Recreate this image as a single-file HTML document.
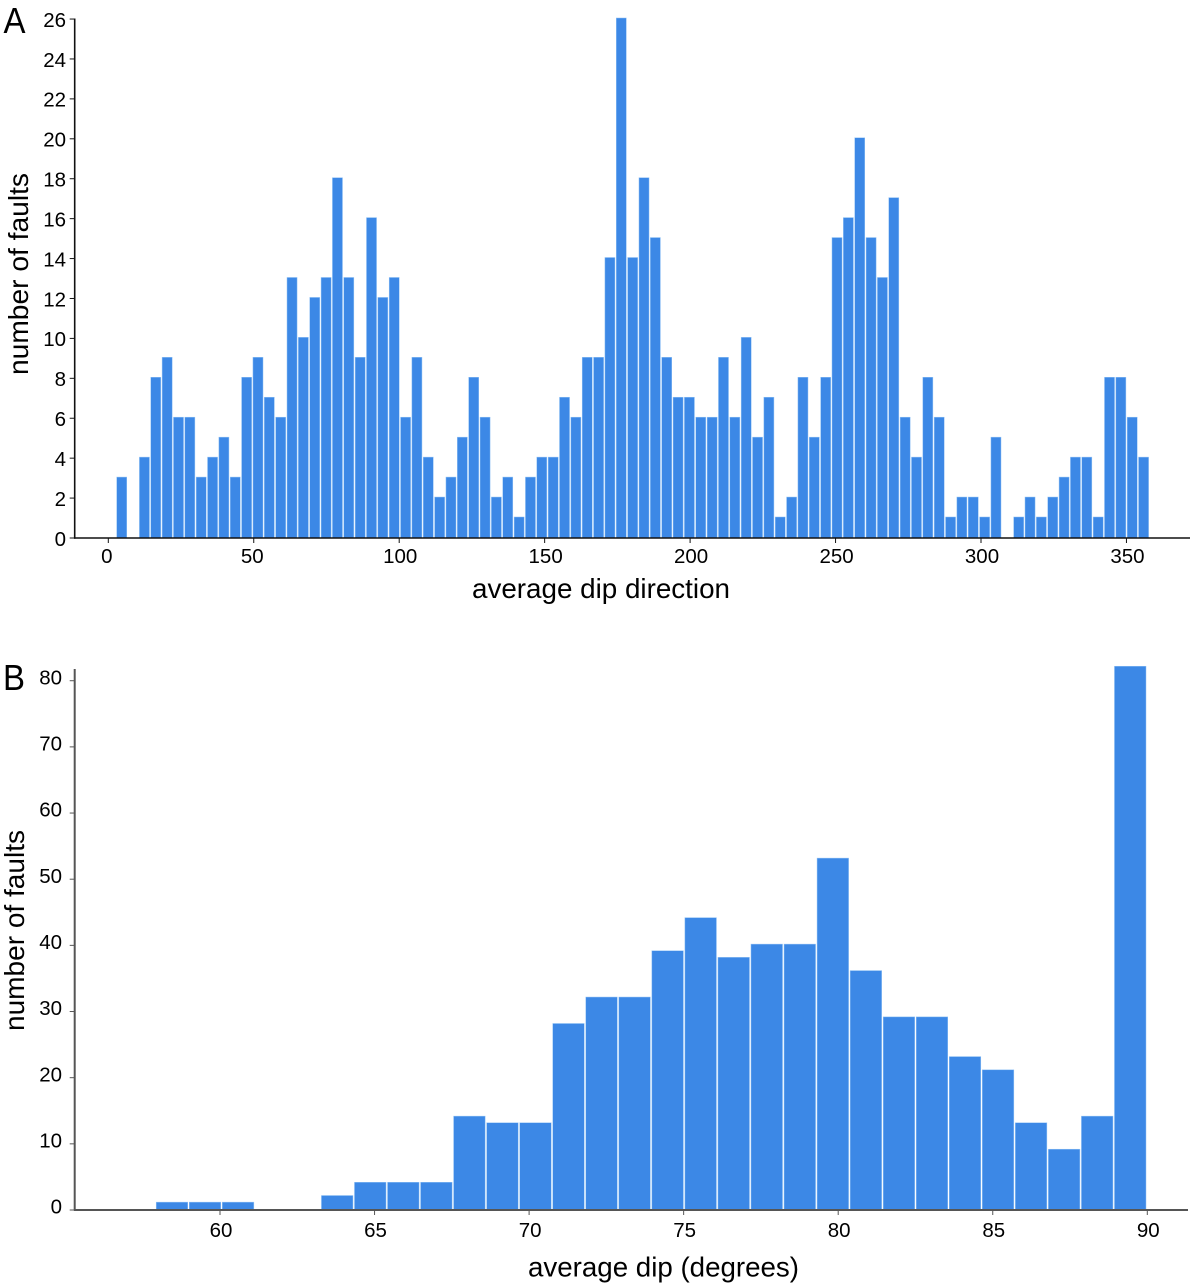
<!DOCTYPE html>
<html lang="en">
<head>
<meta charset="utf-8">
<title>Fault histograms</title>
<style>
html,body{margin:0;padding:0;background:#fff;}
svg{display:block;}
text{font-family:"Liberation Sans",Arial,sans-serif;fill:#000;}
</style>
</head>
<body>
<svg id="figure" xmlns="http://www.w3.org/2000/svg" width="1191" height="1283" viewBox="0 0 1191 1283"></svg>
<script>
var directionCounts = [3,0,4,8,9,6,6,3,4,5,3,8,9,7,6,13,10,12,13,18,13,9,16,12,13,6,9,4,2,3,5,8,6,2,3,1,3,4,4,7,6,9,9,14,26,14,18,15,9,7,7,6,6,9,6,10,5,7,1,2,8,5,8,15,16,20,15,13,17,6,4,8,6,1,2,2,1,5,0,1,2,1,2,3,4,4,1,8,8,6,4];
var directionBinStart = 2.82;
var directionBinWidth = 3.903;
var directionXTicks = [0,50,100,150,200,250,300,350];
var directionYTicks = [0,2,4,6,8,10,12,14,16,18,20,22,24,26];

var dipCounts = [1,1,1,0,0,2,4,4,4,14,13,13,28,32,32,39,44,38,40,40,53,36,29,29,23,21,13,9,14,82];
var dipBinStart = 57.93;
var dipBinWidth = 1.069;
var dipXTicks = [60,65,70,75,80,85,90];
var dipYTicks = [0,10,20,30,40,50,60,70,80];

var svgNS = 'http://www.w3.org/2000/svg';
var figure = document.getElementById('figure');

function make(tag, attrs, parent, content) {
  var el = document.createElementNS(svgNS, tag);
  for (var k in attrs) { el.setAttribute(k, attrs[k]); }
  if (content !== undefined) { el.textContent = content; }
  parent.appendChild(el);
  return el;
}

function drawPanel(cfg) {
  var group = make('g', {}, figure);
  
  

  var xPos = function (v) { return cfg.xZero + cfg.xScale * (v - cfg.xBase); };
  var yPos = function (v) { return cfg.yZero - cfg.yScale * v; };

  cfg.counts.forEach(function (count, i) {
    if (count === 0) { return; }
    var left = xPos(cfg.binStart + i * cfg.binWidth);
    var right = xPos(cfg.binStart + (i + 1) * cfg.binWidth);
    var top = yPos(count) - cfg.barLift;
    var bar = make('rect', {
      x: left + 0.2,
      y: top + 0.25,
      width: right - left - cfg.barGap,
      height: cfg.yZero - top - 0.25,
      fill: '#3c88e6',
      stroke: '#93c3f5',
      'stroke-width': 0.5
    }, group);
    
    
  });

  var yAxis = make('line', {x1: cfg.axisX, x2: cfg.axisX, y1: cfg.axisTop, y2: cfg.yZero + 0.8, stroke: cfg.axisColor, 'stroke-width': cfg.axisWidth}, group);
  
  

  var xAxis = make('line', {x1: cfg.axisX - 0.7, x2: cfg.axisRight, y1: cfg.yZero, y2: cfg.yZero, stroke: cfg.axisColor, 'stroke-width': cfg.axisWidth}, group);
  
  

  cfg.yTicks.forEach(function (t) {
    var y = yPos(t);
    var tick = make('line', {x1: cfg.axisX - 5, x2: cfg.axisX, y1: y, y2: y, stroke: cfg.axisColor, 'stroke-width': 1}, group);
    
    
    var label = make('text', {x: cfg.yLabelRight, y: y + cfg.yLabelDrop, 'text-anchor': 'end', 'font-size': 20.5}, group, String(t));
    
    
  });

  cfg.xTicks.forEach(function (t) {
    var x = xPos(t);
    var tick = make('line', {x1: x, x2: x, y1: cfg.yZero, y2: cfg.yZero + 5, stroke: cfg.axisColor, 'stroke-width': 1}, group);
    
    
    var label = make('text', {x: x + cfg.xLabelShift(t), y: cfg.xLabelBase, 'text-anchor': 'middle', 'font-size': 20.5}, group, String(t));
    
    
  });

  var xTitle = make('text', {x: cfg.xTitleLeft, y: cfg.xTitleBase, 'font-size': 27.5, textLength: cfg.xTitleLen, lengthAdjust: 'spacingAndGlyphs'}, group, cfg.xTitle);
  
  

  var yTitle = make('text', {
    transform: 'translate(' + cfg.yTitleX + ',' + cfg.yTitleBottom + ') rotate(-90)',
    x: 0, y: 0, 'font-size': 27.5, textLength: cfg.yTitleLen, lengthAdjust: 'spacingAndGlyphs'
  }, group, 'number of faults');
  
  

  var panelLabel = make('text', {x: cfg.letterX, y: cfg.letterY, 'font-size': 36, textLength: cfg.letterLen, lengthAdjust: 'spacingAndGlyphs'}, group, cfg.letter);
  
  
}

drawPanel({
  name: 'dip-direction-histogram',
  counts: directionCounts, binStart: directionBinStart, binWidth: directionBinWidth,
  xTicks: directionXTicks, yTicks: directionYTicks,
  xZero: 108.3, xBase: 0, xScale: 2.909,
  yZero: 538, yScale: 19.96,
  barLift: 1.3, barGap: 1.3,
  axisX: 74.7, axisTop: 18.5, axisRight: 1190, axisColor: '#111', axisWidth: 1.6,
  yLabelRight: 66, yLabelDrop: 7.8,
  xLabelShift: function (t) { return t < 100 ? -1.5 : 1; }, xLabelBase: 563,
  xTitle: 'average dip direction', xTitleLeft: 472, xTitleBase: 598, xTitleLen: 258,
  yTitleX: 28, yTitleBottom: 375, yTitleLen: 202,
  letter: 'A', letterX: 3.5, letterY: 33, letterLen: 22
});

drawPanel({
  name: 'dip-histogram',
  counts: dipCounts, binStart: dipBinStart, binWidth: dipBinWidth,
  xTicks: dipXTicks, yTicks: dipYTicks,
  xZero: 220, xBase: 60, xScale: 30.91,
  yZero: 1210, yScale: 6.616,
  barLift: 1.5, barGap: 1.5,
  axisX: 74.7, axisTop: 669, axisRight: 1188, axisColor: '#555', axisWidth: 2,
  yLabelRight: 62, yLabelDrop: 3.6,
  xLabelShift: function () { return 1; }, xLabelBase: 1237,
  xTitle: 'average dip (degrees)', xTitleLeft: 528, xTitleBase: 1276.5, xTitleLen: 271,
  yTitleX: 24, yTitleBottom: 1031, yTitleLen: 201,
  letter: 'B', letterX: 3, letterY: 690, letterLen: 22
});
</script>
</body>
</html>
